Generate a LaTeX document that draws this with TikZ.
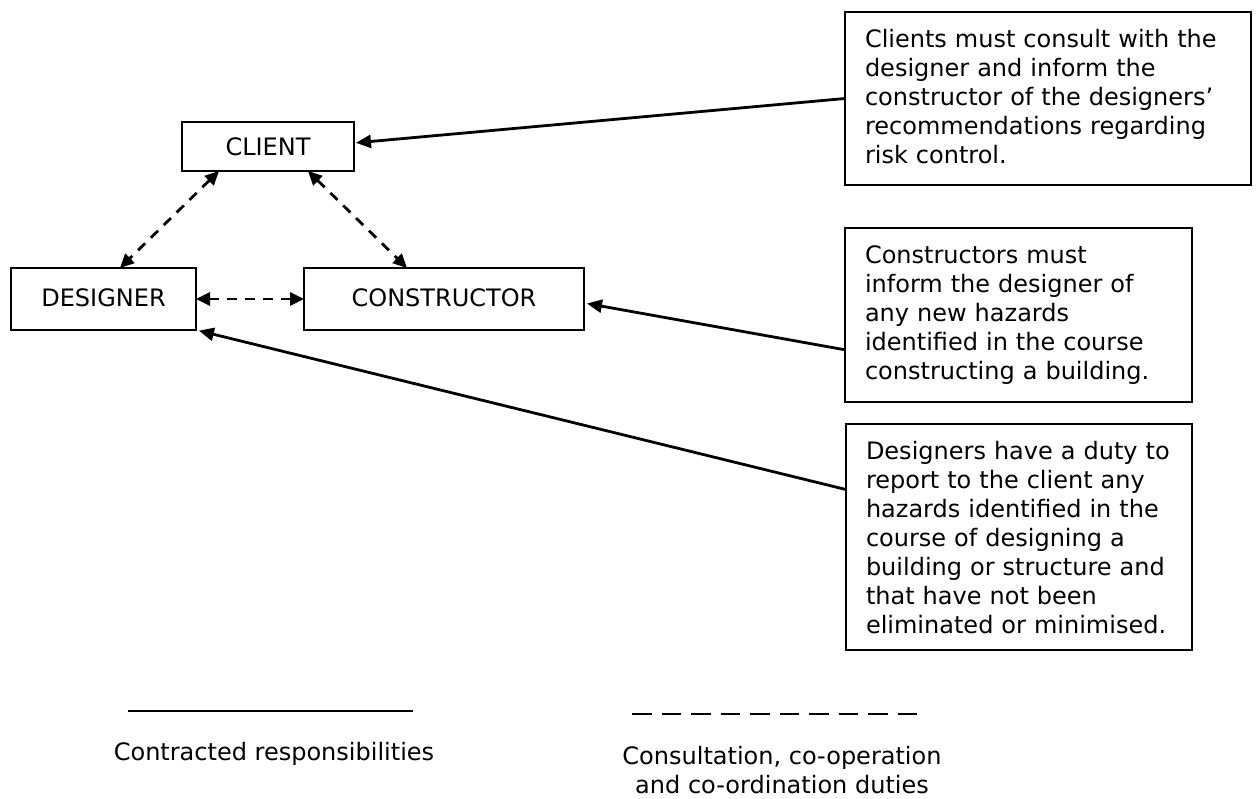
\documentclass[tikz,border=0pt]{standalone}
\usepackage{fontspec}
\setmainfont{DejaVu Sans}
\usetikzlibrary{arrows.meta,calc}
\setlength{\parindent}{0pt}
\begin{document}
\begin{tikzpicture}[x=1pt,y=-1pt,
  every node/.style={font=\fontsize{24}{29}\selectfont},
  box/.style={draw, line width=2pt, inner sep=0pt, outer sep=0pt},
  note/.style={draw, line width=2pt, anchor=north west, inner xsep=20pt, inner ysep=0pt, outer sep=0pt, align=left},
  resp/.style={line width=2.8pt, -{Triangle[length=15pt,width=13pt]}, shorten >=2pt},
  coop/.style={line width=2.8pt, dash pattern=on 10pt off 8pt, {Triangle[length=14pt,width=13pt]}-{Triangle[length=14pt,width=13pt]}},
]
\useasboundingbox (0,0) rectangle (1256,799);

% actors
\node[box, minimum width=172pt, minimum height=49pt] (client) at (268,146.5) {CLIENT};
\node[box, minimum width=185pt, minimum height=62pt] (designer) at (103.5,299) {\raisebox{3pt}{DESIGNER}\hspace{16pt}};
\node[box, minimum width=280pt, minimum height=62pt] (constructor) at (444,299) {\raisebox{3pt}{CONSTRUCTOR}};

% notes
\node[note, text width=366pt] (cnote) at (845,12) {\rule{0pt}{36pt}\mbox{Clients must consult with the}\\ \mbox{designer and inform the}\\ \mbox{constructor of the designers’}\\ \mbox{recommendations regarding}\\ \mbox{risk control.}\rule[-21pt]{0pt}{21pt}};
\node[note, text width=307pt] (knote) at (845,228) {\rule{0pt}{36pt}\mbox{Constructors must}\\ \mbox{inform the designer of}\\ \mbox{any new hazards}\\ \mbox{identified in the course}\\ \mbox{constructing a building.}\rule[-22pt]{0pt}{22pt}};
\node[note, text width=306pt] (dnote) at (846,424) {\rule{0pt}{36pt}\mbox{Designers have a duty to}\\ \mbox{report to the client any}\\ \mbox{hazards identified in the}\\ \mbox{course of designing a}\\ \mbox{building or structure and}\\ \mbox{that have not been}\\ \mbox{eliminated or minimised.}\rule[-16pt]{0pt}{16pt}};

% contracted responsibilities
\draw[resp] (cnote.west) -- ([yshift=3.5pt]client.east);
\draw[resp, shorten >=3pt] ($(knote.north west)!0.7!(knote.south west)$) -- ([yshift=-4pt]constructor.east);
\draw[resp, shorten >=3pt] ($(dnote.north west)!0.29!(dnote.south west)$) -- (designer.south east);

% consultation duties
\draw[coop] ([xshift=-49pt]client.south) -- ([xshift=16.5pt]designer.north);
\draw[coop] ([xshift=40pt]client.south) -- ([xshift=-37pt]constructor.north);
\draw[coop] (designer.east) -- (constructor.west);

% legend
\coordinate (s1) at (128,711);
\coordinate (s2) at (413,711);
\draw[line width=2.8pt] (s1) -- (s2);
\coordinate (d1) at (632,714);
\coordinate (d2) at (917,714);
\draw[line width=2.8pt, dash pattern=on 19.5pt off 10pt] (d1) -- (d2);
\node[anchor=base, inner sep=0pt] (lg1) at (274,760) {Contracted responsibilities};
\node[anchor=north, inner sep=0pt, align=center] (lg2) at (782,745) {\rule{0pt}{19pt}Consultation, co-operation\\and co-ordination duties};
\end{tikzpicture}
\end{document}
